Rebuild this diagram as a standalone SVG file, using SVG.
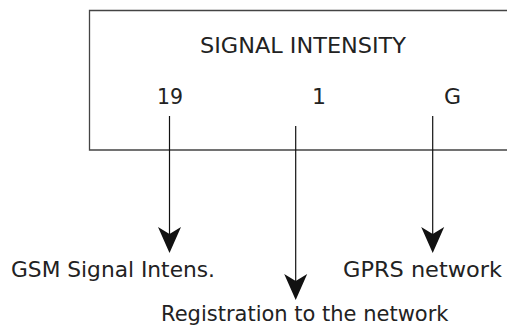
<svg xmlns="http://www.w3.org/2000/svg" width="507" height="326" viewBox="0 0 507 326">
<style>
text{font-family:"DejaVu Sans",Verdana,sans-serif;fill:#222}
.t{font-size:22px}
.l{font-size:21px}
.box{fill:none;stroke:#444;stroke-width:1.3}
.ln{stroke:#111;stroke-width:1.2;fill:none}
.ah{fill:#111}
</style>
<defs>
<path id="head" d="M0,0 L-11.5,-26 L0,-19 L11.5,-26 Z"/>
</defs>
<g id="display">
<path class="box" d="M510,10.5 H89.5 V150 H510"/>
<text class="t" x="200" y="53" textLength="206" lengthAdjust="spacingAndGlyphs">SIGNAL INTENSITY</text>
<text class="t" x="157" y="104" textLength="26" lengthAdjust="spacingAndGlyphs">19</text>
<text class="t" x="312" y="104">1</text>
<text class="t" x="444" y="104">G</text>
</g>
<g id="connectors">
<line class="ln" x1="169.5" y1="116" x2="169.5" y2="236"/>
<use href="#head" class="ah" x="169.5" y="253"/>
<line class="ln" x1="295.7" y1="126" x2="295.7" y2="283"/>
<use href="#head" class="ah" x="295.7" y="300"/>
<line class="ln" x1="432.7" y1="116" x2="432.7" y2="236"/>
<use href="#head" class="ah" x="432.7" y="253"/>
</g>
<g id="gsm"><text class="l" x="11" y="277" textLength="204" lengthAdjust="spacingAndGlyphs">GSM Signal Intens.</text></g>
<g id="reg"><text class="l" x="161" y="321">Registration to the network</text></g>
<g id="gprs"><text class="l" x="343" y="277" textLength="159" lengthAdjust="spacingAndGlyphs">GPRS network</text></g>
</svg>
